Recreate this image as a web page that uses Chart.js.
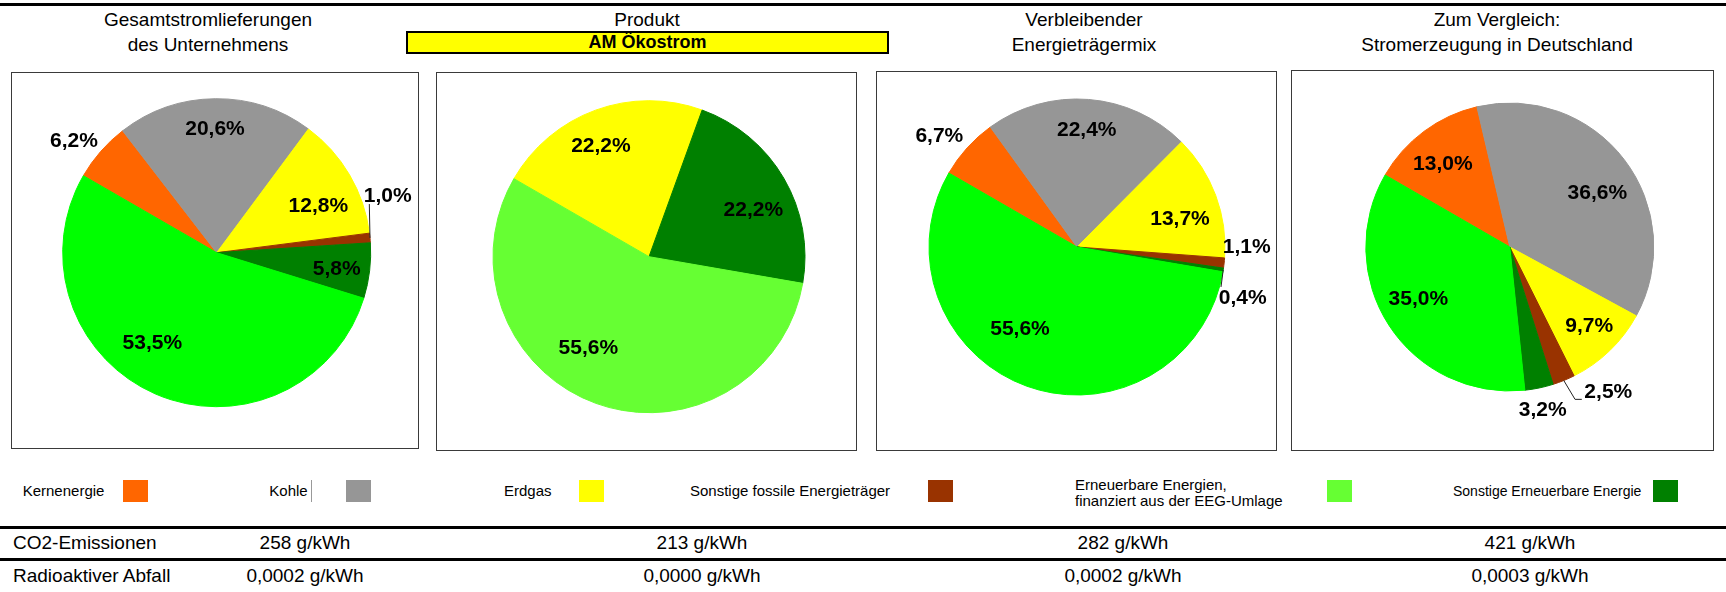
<!DOCTYPE html>
<html>
<head>
<meta charset="utf-8">
<script src="https://cdn.jsdelivr.net/npm/chart.js@4.4.1/dist/chart.umd.min.js"></script>
<style>
html,body{margin:0;padding:0;background:#fff;}
body{width:1726px;height:592px;position:relative;overflow:hidden;font-family:"Liberation Sans",Arial,Helvetica,sans-serif;color:#000;}
.title{position:absolute;font-size:19px;line-height:25px;text-align:center;white-space:nowrap;transform:translateX(-50%);}
.rule{position:absolute;left:0;width:1726px;background:#000;}
.box{position:absolute;border:1px solid #3a3a3a;box-sizing:border-box;pointer-events:none;}
.lg{position:absolute;font-size:15px;line-height:16px;white-space:nowrap;}
.sw{position:absolute;width:25px;height:22px;top:480px;}
.tb{position:absolute;font-size:19px;line-height:20px;white-space:nowrap;}
.tbc{transform:translateX(-50%);}
#prod{position:absolute;left:406px;top:31px;width:483px;height:23px;background:#FFFF00;border:2px solid #000;box-sizing:border-box;font-weight:bold;font-size:18px;line-height:19px;text-align:center;}
</style>
</head>
<body>
<script>
// ---------- data ----------
const categories = ['Kernenergie', 'Kohle', 'Erdgas', 'Sonstige fossile Energieträger', 'Sonstige Erneuerbare Energie', 'Erneuerbare Energien,\nfinanziert aus der EEG-Umlage'];
const gesamtValues      = [6.2, 20.6, 12.8, 1.0, 5.8, 53.5];
const produktValues     = [0, 0, 22.2, 0, 22.2, 55.6];
const restmixValues     = [6.7, 22.4, 13.7, 1.1, 0.4, 55.6];
const deutschlandValues = [13.0, 36.6, 9.7, 2.5, 3.2, 35.0];
const panelTitles = [['Gesamtstromlieferungen', 'des Unternehmens'], ['Produkt'], ['Verbleibender', 'Energieträgermix'], ['Zum Vergleich:', 'Stromerzeugung in Deutschland']];
const productName = 'AM Ökostrom';
const tableRowLabels = ['CO2-Emissionen', 'Radioaktiver Abfall'];
const co2Values = [258, 213, 282, 421];
const wasteValues = [0.0002, 0.0000, 0.0002, 0.0003];
const unitLabel = 'g/kWh';
const legendOrder = [0, 1, 2, 3, 5, 4];

// ---------- styles ----------
const sliceColors = ['#FF6600', '#969696', '#FFFF00', '#993300', '#008000', '#00FF00'];
const sliceColorsProdukt = ['#FF6600', '#969696', '#FFFF00', '#993300', '#008000', '#66FF33'];
const legendColors = ['#FF6600', '#969696', '#FFFF00', '#993300', '#008000', '#66FF33'];
const legendFontSizes = [15, 15, 15, 15, 14, 15];

// ---------- layout ----------
const titleX = [208, 647, 1084, 1497];
const panelBoxes = [
  {x: 11, y: 72, w: 408, h: 377, cx: 216.7, cy: 252.7, r: 154},
  {x: 436, y: 72, w: 421, h: 379, cx: 649, cy: 256.7, r: 156},
  {x: 876, y: 71, w: 401, h: 380, cx: 1077, cy: 247, r: 148},
  {x: 1291, y: 70, w: 423, h: 381, cx: 1509.8, cy: 247, r: 144}
];
// label offsets from pie centre, in units of the pie radius
const labelOffsets = [
  [[-0.927, -0.721], [-0.011, -0.801], [0.660, -0.299], [1.110, -0.364], [0.779, 0.108], [-0.418, 0.588]],
  [null, null, [-0.308, -0.710], null, [0.669, -0.299], [-0.389, 0.587]],
  [[-0.930, -0.750], [0.066, -0.791], [0.696, -0.187], [1.147, 0.002], [1.120, 0.347], [-0.385, 0.556]],
  [[-0.465, -0.576], [0.608, -0.373], [0.552, 0.553], [0.684, 1.009], [0.229, 1.132], [-0.635, 0.363]]
];
const leaderLines = [
  {3: [[0.991, -0.316]]},
  {},
  {4: [[0.973, 0.27]]},
  {3: [[0.453, 1.058], [0.5, 1.058]]}
];
const legendTextX = [22.7, 269.3, 504, 690, 1075, 1453];
const legendSwatchX = [123.3, 346, 579, 928, 1327, 1653];
const tableColX = [305, 702, 1123, 1530];

function el(cls, style, text) {
  const d = document.createElement('div');
  if (cls) d.className = cls;
  Object.assign(d.style, style || {});
  if (text !== undefined) d.textContent = text;
  document.body.appendChild(d);
  return d;
}
function pct(v) { return v.toFixed(1).replace('.', ',') + '%'; }

// rules
el('rule', {top: '3px', height: '3px'});
el('rule', {top: '526px', height: '3px'});
el('rule', {top: '558px', height: '3px'});

// titles
panelTitles.forEach((lines, i) => {
  const t = el('title', {left: titleX[i] + 'px', top: '7px'});
  t.innerHTML = lines.join('<br>');
});
const prod = el(null, {}, productName); prod.id = 'prod';

// legend
legendOrder.forEach((ci, k) => {
  const lines = categories[ci].split('\n');
  const t = el('lg', {left: legendTextX[k] + 'px', top: (lines.length > 1 ? 477 : 482.8) + 'px', fontSize: legendFontSizes[ci] + 'px'});
  t.innerHTML = lines.join('<br>');
  el('sw', {left: legendSwatchX[k] + 'px', background: legendColors[ci]});
});
el(null, {position: 'absolute', left: '311px', top: '480px', width: '1px', height: '22px', background: '#999'});

// table
const rowTops = [533, 566];
tableRowLabels.forEach((lab, r) => el('tb', {left: '13px', top: rowTops[r] + 'px'}, lab));
co2Values.forEach((v, i) => el('tb tbc', {left: tableColX[i] + 'px', top: rowTops[0] + 'px'}, v + ' ' + unitLabel));
wasteValues.forEach((v, i) => el('tb tbc', {left: tableColX[i] + 'px', top: rowTops[1] + 'px'}, v.toFixed(4).replace('.', ',') + ' ' + unitLabel));

// pies
const panelValues = [gesamtValues, produktValues, restmixValues, deutschlandValues];
const panelColors = [sliceColors, sliceColorsProdukt, sliceColors, sliceColors];

panelValues.forEach((vals, p) => {
  const b = panelBoxes[p];
  const cv = document.createElement('canvas');
  cv.width = b.w; cv.height = b.h;
  Object.assign(cv.style, {position: 'absolute', left: b.x + 'px', top: b.y + 'px', width: b.w + 'px', height: b.h + 'px'});
  document.body.appendChild(cv);
  el('box', {left: b.x + 'px', top: b.y + 'px', width: b.w + 'px', height: b.h + 'px'});
  const ccx = b.cx - b.x, ccy = b.cy - b.y;
  const offs = labelOffsets[p], leads = leaderLines[p];
  const labelPlugin = {
    id: 'sliceLabels' + p,
    afterDatasetsDraw(chart) {
      const ctx = chart.ctx;
      const meta = chart.getDatasetMeta(0);
      const data = chart.data.datasets[0].data;
      ctx.save();
      ctx.font = 'bold 21px "Liberation Sans", Arial, sans-serif';
      ctx.textAlign = 'center';
      ctx.textBaseline = 'middle';
      meta.data.forEach((arc, i) => {
        const v = data[i];
        if (!v || !offs[i]) return;
        const a = arc.getProps(['x', 'y', 'startAngle', 'endAngle', 'outerRadius'], true);
        const R = a.outerRadius;
        if (leads[i]) {
          const mid = (a.startAngle + a.endAngle) / 2;
          ctx.beginPath();
          ctx.moveTo(a.x + Math.cos(mid) * R, a.y + Math.sin(mid) * R);
          leads[i].forEach(q => ctx.lineTo(a.x + q[0] * R, a.y + q[1] * R));
          ctx.strokeStyle = '#222';
          ctx.lineWidth = 1;
          ctx.stroke();
        }
        ctx.fillStyle = '#000';
        ctx.fillText(pct(v), a.x + offs[i][0] * R, a.y + offs[i][1] * R);
      });
      ctx.restore();
    }
  };
  new Chart(cv, {
    type: 'pie',
    data: {
      labels: categories,
      datasets: [{
        data: vals,
        backgroundColor: panelColors[p],
        borderColor: panelColors[p],
        borderWidth: vals.map(v => v > 0 ? 1 : 0),
        hoverOffset: 0,
        offset: 0
      }]
    },
    options: {
      responsive: false,
      animation: false,
      rotation: -60,
      radius: b.r,
      layout: {padding: {left: ccx - b.r, right: b.w - ccx - b.r, top: ccy - b.r, bottom: b.h - ccy - b.r}},
      plugins: {legend: {display: false}, tooltip: {enabled: false}}
    },
    plugins: [labelPlugin]
  });
});
</script>
</body>
</html>
